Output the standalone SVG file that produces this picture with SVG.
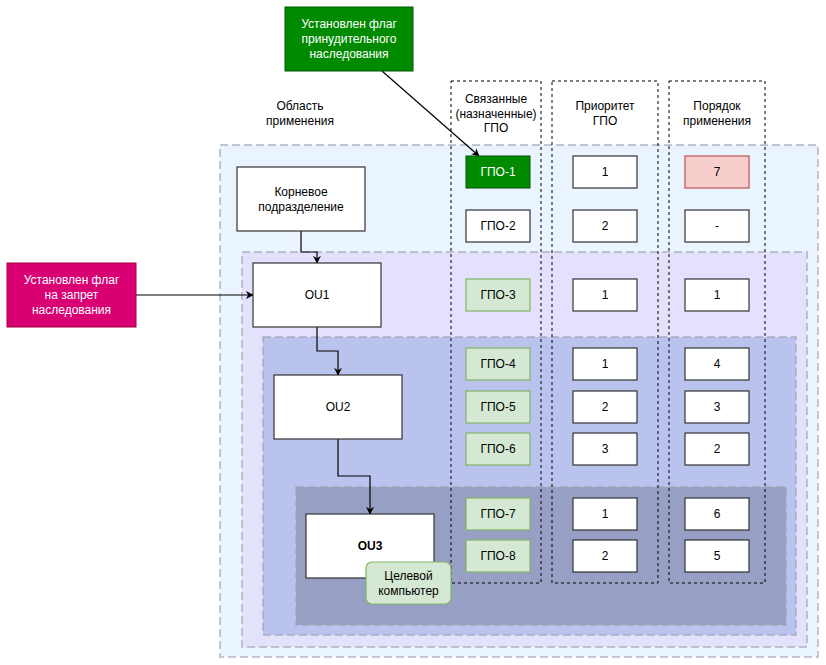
<svg xmlns="http://www.w3.org/2000/svg" width="826" height="665" viewBox="0 0 826 665">
<style>
text{font-family:"Liberation Sans",Arial,sans-serif;font-size:12px;fill:#000;text-anchor:middle;dominant-baseline:central}
.region{stroke:#a0a4b0;stroke-opacity:0.6;stroke-width:2;stroke-dasharray:8 4}
.col{fill:none;stroke:#000;stroke-width:1;stroke-dasharray:3 3}
.box{fill:#fff;stroke:#333;stroke-width:1.2}
.gpo{fill:#d5e8d4;stroke:#82b366;stroke-width:1.2}
.wt{fill:#fff}
.conn{fill:none;stroke:#000;stroke-width:1.2}
</style>
<defs>
<marker id="arr" viewBox="0 0 10 10" refX="9" refY="5" markerWidth="8" markerHeight="8" orient="auto" markerUnits="userSpaceOnUse">
<path d="M0,0 L10,5 L0,10 L3,5 Z" fill="#000"/>
</marker>
</defs>
<rect width="826" height="665" fill="#fff"/>
<g id="regions">
<rect class="region" x="220" y="145" width="598" height="512" fill="#eaf4ff"/>
<rect class="region" x="242" y="252" width="565" height="395" fill="#e4e1fd"/>
<rect class="region" x="263" y="337" width="533" height="298" fill="#bac3ed"/>
<rect class="region" x="296" y="487" width="490" height="138" fill="#979fc4"/>
</g>
<g id="columns">
<rect class="col" x="451" y="81" width="90" height="502"/>
<rect class="col" x="552" y="81" width="106" height="502"/>
<rect class="col" x="669" y="81" width="96" height="502"/>
</g>
<g id="headers">
<text x="300" y="106">Область</text>
<text x="300" y="121">применения</text>
<text x="496" y="99">Связанные</text>
<text x="496" y="114">(назначенные)</text>
<text x="496" y="128">ГПО</text>
<text x="605" y="106">Приоритет</text>
<text x="605" y="121">ГПО</text>
<text x="717" y="106">Порядок</text>
<text x="717" y="121">применения</text>
</g>
<g id="connectors">
<path class="conn" d="M382,71 L479,156" marker-end="url(#arr)"/>
<path class="conn" d="M136,295 L253,295" marker-end="url(#arr)"/>
<path class="conn" d="M301,231 V252 H317 V263" marker-end="url(#arr)"/>
<path class="conn" d="M317,327 V351 H338 V375" marker-end="url(#arr)"/>
<path class="conn" d="M338,439 V476 H370 V514" marker-end="url(#arr)"/>
</g>
<g id="flag-forced">
<rect x="285" y="7" width="128" height="64" fill="#008a00" stroke="#005700"/>
<text class="wt" x="349" y="24">Установлен флаг</text>
<text class="wt" x="349" y="39">принудительного</text>
<text class="wt" x="349" y="54">наследования</text>
</g>
<g id="flag-block">
<rect x="7" y="263" width="129" height="64" fill="#d80073" stroke="#a50040"/>
<text class="wt" x="71.5" y="280">Установлен флаг</text>
<text class="wt" x="71.5" y="295">на запрет</text>
<text class="wt" x="71.5" y="310">наследования</text>
</g>
<g id="root">
<rect class="box" x="237" y="167" width="128" height="64"/>
<text x="301" y="192">Корневое</text>
<text x="301" y="207">подразделение</text>
</g>
<g id="ou1">
<rect class="box" x="253" y="263" width="128" height="64"/>
<text x="317" y="295">OU1</text>
</g>
<g id="ou2">
<rect class="box" x="274" y="375" width="128" height="64"/>
<text x="338" y="407">OU2</text>
</g>
<g id="ou3">
<rect class="box" x="306" y="514" width="128" height="64"/>
<text x="370" y="546" font-weight="bold">OU3</text>
</g>
<g id="target">
<rect x="366" y="562" width="85" height="42" rx="6" fill="#d5e8d4" stroke="#82b366" stroke-width="1.2"/>
<text x="408.5" y="576">Целевой</text>
<text x="408.5" y="591">компьютер</text>
</g>
<g id="gpo1">
<rect x="466" y="156" width="64" height="32" fill="#008a00" stroke="#005700"/>
<text class="wt" x="498" y="172">ГПО-1</text>
</g>
<g id="gpo2">
<rect class="box" x="466" y="210" width="64" height="32"/>
<text x="498" y="226">ГПО-2</text>
</g>
<g id="gpo3"><rect class="gpo" x="466" y="279" width="64" height="32"/><text x="498" y="295">ГПО-3</text></g>
<g id="gpo4"><rect class="gpo" x="466" y="348" width="64" height="32"/><text x="498" y="364">ГПО-4</text></g>
<g id="gpo5"><rect class="gpo" x="466" y="391" width="64" height="32"/><text x="498" y="407">ГПО-5</text></g>
<g id="gpo6"><rect class="gpo" x="466" y="433" width="64" height="32"/><text x="498" y="449">ГПО-6</text></g>
<g id="gpo7"><rect class="gpo" x="466" y="498" width="64" height="32"/><text x="498" y="514">ГПО-7</text></g>
<g id="gpo8"><rect class="gpo" x="466" y="540" width="64" height="32"/><text x="498" y="556">ГПО-8</text></g>
<g id="prio1"><rect class="box" x="573" y="156" width="64" height="32"/><text x="605" y="172">1</text></g>
<g id="prio2"><rect class="box" x="573" y="210" width="64" height="32"/><text x="605" y="226">2</text></g>
<g id="prio3"><rect class="box" x="573" y="279" width="64" height="32"/><text x="605" y="295">1</text></g>
<g id="prio4"><rect class="box" x="573" y="348" width="64" height="32"/><text x="605" y="364">1</text></g>
<g id="prio5"><rect class="box" x="573" y="391" width="64" height="32"/><text x="605" y="407">2</text></g>
<g id="prio6"><rect class="box" x="573" y="433" width="64" height="32"/><text x="605" y="449">3</text></g>
<g id="prio7"><rect class="box" x="573" y="498" width="64" height="32"/><text x="605" y="514">1</text></g>
<g id="prio8"><rect class="box" x="573" y="540" width="64" height="32"/><text x="605" y="556">2</text></g>
<g id="ord1"><rect x="685" y="156" width="64" height="32" fill="#f8cecc" stroke="#b85450" stroke-width="1.2"/><text x="717" y="172">7</text></g>
<g id="ord2"><rect class="box" x="685" y="210" width="64" height="32"/><text x="717" y="226">-</text></g>
<g id="ord3"><rect class="box" x="685" y="279" width="64" height="32"/><text x="717" y="295">1</text></g>
<g id="ord4"><rect class="box" x="685" y="348" width="64" height="32"/><text x="717" y="364">4</text></g>
<g id="ord5"><rect class="box" x="685" y="391" width="64" height="32"/><text x="717" y="407">3</text></g>
<g id="ord6"><rect class="box" x="685" y="433" width="64" height="32"/><text x="717" y="449">2</text></g>
<g id="ord7"><rect class="box" x="685" y="498" width="64" height="32"/><text x="717" y="514">6</text></g>
<g id="ord8"><rect class="box" x="685" y="540" width="64" height="32"/><text x="717" y="556">5</text></g>
</svg>
